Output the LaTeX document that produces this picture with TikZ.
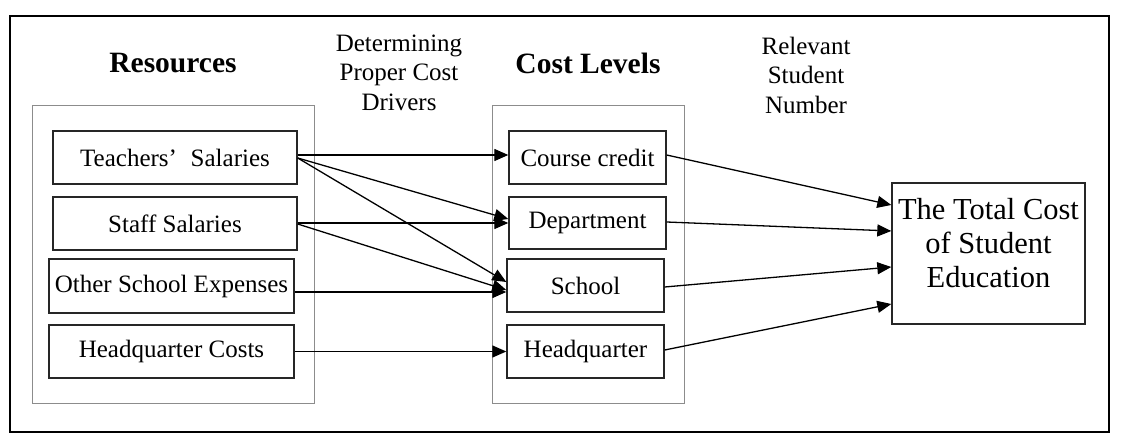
\documentclass[tikz,border=0pt]{standalone}
\usepackage{fontspec}
\setmainfont{Liberation Serif}
\usetikzlibrary{arrows.meta}
\begin{document}
\begin{tikzpicture}[x=1pt,y=-1pt,
 box/.style={draw=black!85, line width=1.4pt, inner sep=0pt, font=\fontsize{25}{28}\selectfont},
 group/.style={draw=black!45, line width=1pt, inner sep=0pt},
 arr/.style={line width=1.3pt, -{Triangle[length=14pt,width=12pt]}},
 title/.style={font=\fontsize{29.5}{32}\selectfont\bfseries, inner sep=0pt},
 lab/.style={font=\fontsize{25}{29.5}\selectfont, align=center, inner sep=0pt},
 tclab/.style={font=\fontsize{30.5}{34}\selectfont, align=center, inner sep=0pt}]
\useasboundingbox (0,0) rectangle (1131,443);
\node[draw, line width=2.2pt, minimum width=1099pt, minimum height=416pt, inner sep=0pt] (frame) at (559.5,224) {};
% groups
\node[group, minimum width=282pt, minimum height=297pt] (resg) at (173,254.5) {};
\node[group, minimum width=192pt, minimum height=297pt] (costg) at (588,254.5) {};
% titles
\node[title] (rt) at (173,63) {Resources};
\node[title] (ct) at (588,63) {Cost Levels};
\node[lab] (dl) at (399,72.5) {Determining\\Proper Cost\\Drivers};
\node[lab] (rl) at (806,75) {Relevant\\Student\\Number};
% resources
\node[box, minimum width=244pt, minimum height=53pt] (ts) at (175,157.5) {Teachers’\hspace{0.55em}Salaries};
\node[box, minimum width=244pt, minimum height=53pt] (ss) at (175,223.5) {Staff Salaries};
\node[box, minimum width=245pt, minimum height=54pt] (os) at (171.5,286) {Other School Expenses};
\node[box, minimum width=245pt, minimum height=53pt] (hc) at (171.5,351.5) {Headquarter Costs};
% cost levels
\node[box, minimum width=157pt, minimum height=53pt] (cc) at (587.5,157.5) {Course credit};
\node[box, minimum width=157pt, minimum height=52pt] (dp) at (587.5,223) {Department};
\node[box, minimum width=157pt, minimum height=53pt] (sc) at (585.5,285.5) {School};
\node[box, minimum width=157pt, minimum height=53pt] (hq) at (585.5,351.5) {Headquarter};
% total
\node[box, minimum width=193pt, minimum height=141pt,
  label={[tclab, yshift=10pt]center:{The Total Cost\\of Student\\Education}}] (tc) at (988.5,253.5) {};
% arrows
\draw[arr] ([yshift=2.5pt]ts.east) -- ([yshift=2.5pt]cc.west);
\draw[arr] ([yshift=-0.5pt]ts.east) -- ([yshift=4pt]dp.west);
\draw[arr] ([yshift=-0.5pt]ts.east) -- ([yshift=3.5pt]sc.west);
\draw[arr] ([yshift=0.5pt]ss.east) -- (dp.west);
\draw[arr] ([yshift=-0.5pt]ss.east) -- ([yshift=-4.5pt]sc.west);
\draw[arr] ([yshift=-6pt]os.east) -- ([yshift=-6.5pt]sc.west);
\draw[arr] (hc.east) -- (hq.west);
\draw[arr] ([yshift=2.5pt]cc.east) -- ([yshift=48.5pt]tc.west);
\draw[arr] ([yshift=1pt]dp.east) -- ([yshift=22.5pt]tc.west);
\draw[arr] ([yshift=-1.5pt]sc.east) -- ([yshift=-13.5pt]tc.west);
\draw[arr] ([yshift=1.5pt]hq.east) -- ([yshift=-50.5pt]tc.west);
\end{tikzpicture}
\end{document}
